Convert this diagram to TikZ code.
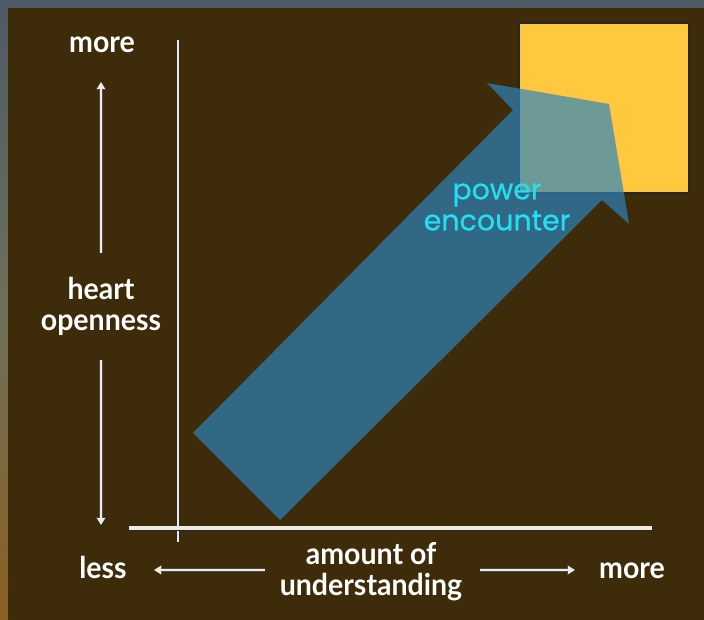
\documentclass[tikz,border=0pt]{standalone}
\usepackage{fontspec}
\usetikzlibrary{arrows.meta}
\newfontfamily\labelfont[FakeStretch=0.95]{Lato}
\newfontfamily\cyanfont[FakeBold=0.6]{Poppins}
\definecolor{brownbg}{RGB}{62,43,9}
\definecolor{yellowsq}{RGB}{255,200,62}
\definecolor{arrowblue}{RGB}{44,132,190}
\definecolor{cyantext}{RGB}{34,224,242}
\definecolor{axiswhite}{RGB}{240,236,228}
\tikzset{
  lbl/.style={text=white, align=center, inner sep=0pt,
    font=\labelfont\bfseries\fontsize{30}{31}\selectfont},
  cyanlbl/.style={text=cyantext, align=center, inner sep=0pt,
    font=\cyanfont\fontsize{28.5}{31}\selectfont},
  axisline/.style={draw=black!85, double=axiswhite, line cap=butt},
  dirarrow/.style={draw=axiswhite, line width=2.8pt,
    -{Triangle[width=8pt,length=7pt]},
    preaction={draw=black!70, line width=4.2pt, -{Triangle[width=10pt,length=8pt]}}}
}
\begin{document}
\begin{tikzpicture}[x=1pt,y=-1pt]
\useasboundingbox (0,0) rectangle (704,620);
% outer background
\shade[top color={rgb,255:red,78;green,90;blue,102}, bottom color={rgb,255:red,140;green,95;blue,35}, middle color={rgb,255:red,110;green,112;blue,90}] (0,0) rectangle (704,620);
\fill[brownbg] (8,8) rectangle (704,620);
% yellow square
\fill[yellowsq, draw=black!85, line width=1.2pt] (519,23) rectangle (689,193);
% big arrow
\fill[arrowblue, fill opacity=0.69] (193,433) -- (513,110) -- (487,83) -- (609,104) -- (629,224) -- (602,200) -- (280,520) -- cycle;
% axes
\coordinate (vtop) at (178,40);
\coordinate (vbot) at (178,542);
\coordinate (hleft) at (129,528);
\coordinate (hright) at (652,528);
\draw[axisline, double distance=2.4pt, line width=0.6pt] (vtop) -- (vbot);
\draw[axisline, double distance=3.6pt, line width=0.7pt] (hleft) -- (hright);
% labels
\node[lbl] (moreTop) at (102,45) {more};
\node[lbl] (heart) at (101,306) {heart\\openness};
\node[lbl] (less) at (103,567) {less};
\node[lbl] (amount) at (371,572) {amount of\\understanding};
\node[lbl] (moreRight) at (632,571) {more};
\node[cyanlbl] (power) at (497,207) {power\\encounter};
% direction arrows
\coordinate (upS) at (101,253);
\coordinate (upE) at (101,82);
\coordinate (dnS) at (101,360);
\coordinate (dnE) at (101,525);
\coordinate (ltS) at (265,570);
\coordinate (ltE) at (154,570);
\coordinate (rtS) at (480,570);
\coordinate (rtE) at (575,570);
\draw[dirarrow] (upS) -- (upE);
\draw[dirarrow] (dnS) -- (dnE);
\draw[dirarrow] (ltS) -- (ltE);
\draw[dirarrow] (rtS) -- (rtE);
\end{tikzpicture}
\end{document}
